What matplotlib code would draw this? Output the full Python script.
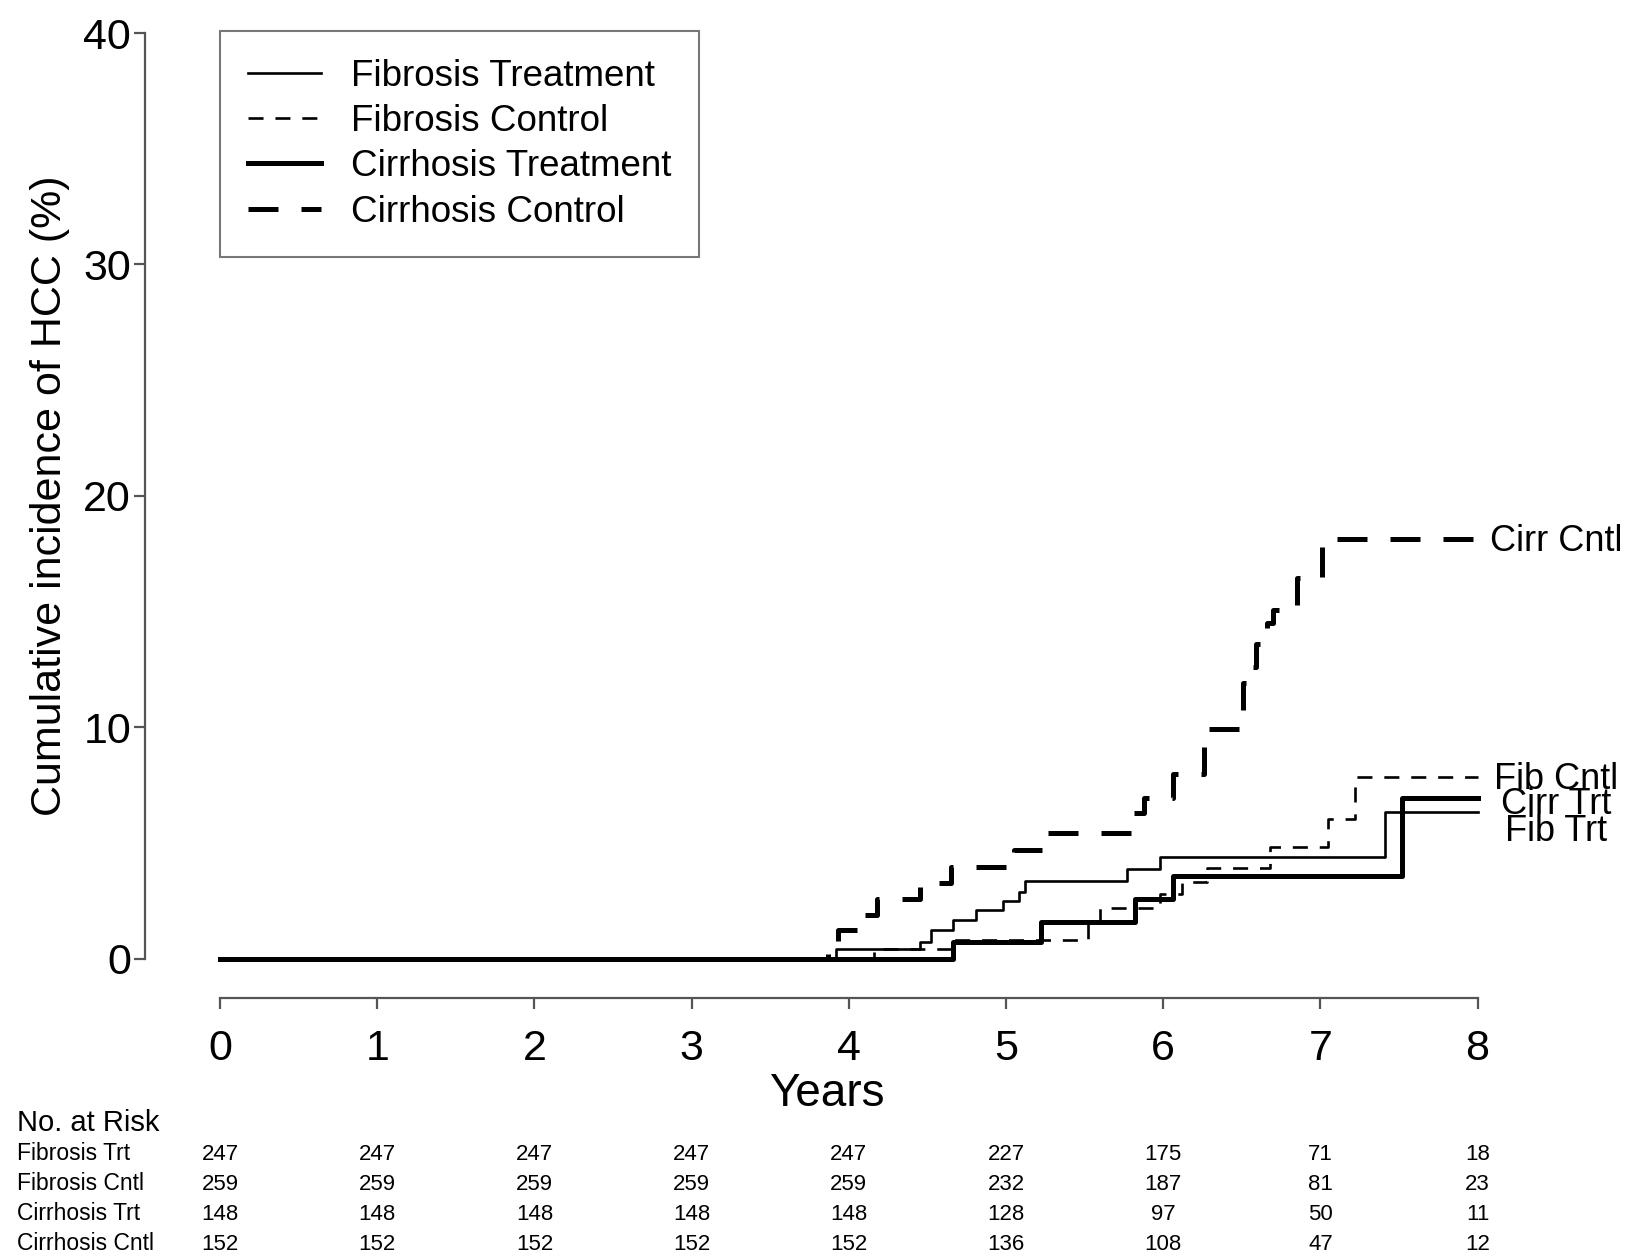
import matplotlib
matplotlib.use("Agg")
import matplotlib.pyplot as plt

plt.rcParams['font.family'] = ['Liberation Sans', 'DejaVu Sans']

# step curves (years, cumulative incidence %)
fib_trt_t = [0, 3.92, 4.45, 4.52, 4.66, 4.81, 4.98, 5.08, 5.12, 5.77, 5.98, 7.41, 8.0]
fib_trt_v = [0, 0.40, 0.74, 1.24, 1.67, 2.10, 2.50, 2.90, 3.37, 3.86, 4.38, 6.35, 6.35]

fib_cntl_t = [0, 4.16, 4.66, 5.52, 5.60, 5.98, 6.12, 6.28, 6.68, 7.05, 7.22, 8.0]
fib_cntl_v = [0, 0.40, 0.81, 1.50, 2.18, 2.80, 3.33, 3.90, 4.81, 6.02, 7.84, 7.84]

cirr_trt_t = [0, 4.66, 5.22, 5.82, 6.06, 7.52, 8.0]
cirr_trt_v = [0, 0.74, 1.60, 2.60, 3.57, 6.93, 6.93]

cirr_cntl_t = [0, 3.87, 3.93, 4.10, 4.18, 4.45, 4.65, 5.05, 5.23, 5.80, 5.88, 6.06,
               6.26, 6.51, 6.53, 6.59, 6.66, 6.70, 6.85, 7.01, 8.0]
cirr_cntl_v = [0, 0.66, 1.24, 1.90, 2.56, 3.26, 3.98, 4.70, 5.42, 6.30, 6.93, 8.00,
               9.93, 11.9, 12.62, 13.6, 14.5, 15.05, 16.44, 18.12, 18.12]

legend_labels = ["Fibrosis Treatment", "Fibrosis Control", "Cirrhosis Treatment", "Cirrhosis Control"]
end_labels = ["Fib Trt", "Fib Cntl", "Cirr Trt", "Cirr Cntl"]
end_label_y = [5.5, 7.75, 6.65, 18.05]

# number at risk table
risk_times = [0, 1, 2, 3, 4, 5, 6, 7, 8]
risk_rows = ["Fibrosis Trt", "Fibrosis Cntl", "Cirrhosis Trt", "Cirrhosis Cntl"]
risk_fib_trt = [247, 247, 247, 247, 247, 227, 175, 71, 18]
risk_fib_cntl = [259, 259, 259, 259, 259, 232, 187, 81, 23]
risk_cirr_trt = [148, 148, 148, 148, 148, 128, 97, 50, 11]
risk_cirr_cntl = [152, 152, 152, 152, 152, 136, 108, 47, 12]

W, H = 1627, 1256
fig = plt.figure(figsize=(W / 100, H / 100), dpi=100)
ax = fig.add_axes([145 / W, (H - 998) / H, (1600 - 145) / W, (998 - 20) / H])

thin, thick = 1.9, 3.6
ax.step(fib_trt_t, fib_trt_v, where='post', color='black', lw=thin, label=legend_labels[0])
ax.step(fib_cntl_t, fib_cntl_v, where='post', color='black', lw=thin,
        linestyle=(0, (5.7, 4.5)), label=legend_labels[1])
ax.step(cirr_trt_t, cirr_trt_v, where='post', color='black', lw=thick, label=legend_labels[2])
ax.step(cirr_cntl_t, cirr_cntl_v, where='post', color='black', lw=thick,
        linestyle=(0, (6, 4.6)), label=legend_labels[3])

for lab, yy in zip(end_labels, end_label_y):
    ax.text(8.5, yy, lab, fontsize=26, ha='center', va='center', clip_on=False)

ax.set_xlim(-75 / 157.2, (1600 - 220) / 157.2)
ax.set_ylim((958.7 - 998) / 23.14, (958.7 - 20) / 23.14)

for s in ['top', 'right']:
    ax.spines[s].set_visible(False)
ax.spines['left'].set_bounds(0, 40)
ax.spines['bottom'].set_bounds(0, 8)
for s in ['left', 'bottom']:
    ax.spines[s].set_color('#555555')
    ax.spines[s].set_linewidth(1.6)

ax.set_xticks(range(0, 9))
ax.set_yticks(range(0, 41, 10))
ax.tick_params(axis='both', direction='out', length=8, width=1.6, color='#555555', labelsize=31)
ax.tick_params(axis='x', pad=14)
ax.tick_params(axis='y', pad=2)

ax.set_xlabel("Years", fontsize=33)
ax.xaxis.set_label_coords((827 - 145) / 1455, -(1094 - 998) / 978)
ax.xaxis.label.set_verticalalignment('center')
ax.set_ylabel("Cumulative incidence of HCC (%)", fontsize=31)
ax.yaxis.set_label_coords((50 - 145) / 1455, (998 - 496) / 978)
ax.yaxis.label.set_verticalalignment('center')

leg = ax.legend(loc='upper left', bbox_to_anchor=(220 / W, 1 - 31 / H),
                bbox_transform=fig.transFigure, fontsize=26.5, frameon=True, fancybox=False,
                borderaxespad=0, borderpad=0.75, labelspacing=0.28, handlelength=2.0,
                handletextpad=0.8)
leg.get_frame().set_edgecolor('#555555')
leg.get_frame().set_linewidth(1.5)

# risk table
fig.text(17 / W, 1 - 1123 / H, "No. at Risk", fontsize=21, ha='left', va='center')
rows = [risk_fib_trt, risk_fib_cntl, risk_cirr_trt, risk_cirr_cntl]
for i, (name, vals) in enumerate(zip(risk_rows, rows)):
    yfig = 1 - (1154 + 30 * i) / H
    fig.text(17 / W, yfig, name, fontsize=16.5, ha='left', va='center')
    for t, n in zip(risk_times, vals):
        xfig = (220 + t * 157.2) / W
        fig.text(xfig, yfig, str(n), fontsize=16, ha='center', va='center')

fig.savefig("out.png", dpi=100)
